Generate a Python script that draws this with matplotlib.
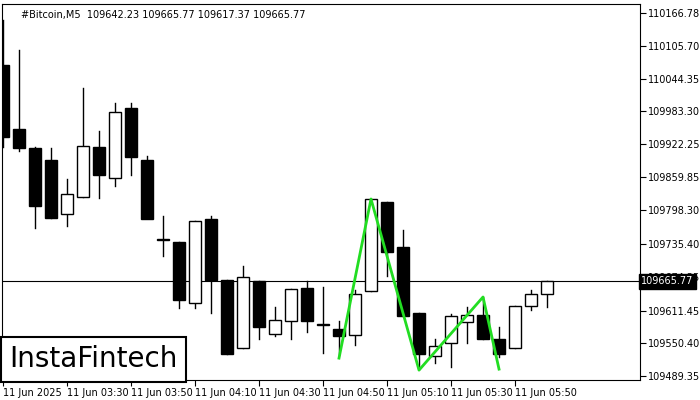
import matplotlib
matplotlib.use("Agg")
import matplotlib.pyplot as plt
from matplotlib.patches import Rectangle

opens = [110069.7,109950.3,109914.8,109892.4,109791.7,109823.4,109916.7,109858.8,109989.5,109892.4,109743.1,
         109739.4,109625.6,109782.3,109668.5,109541.4,109666.6,109567.6,109591.9,109653.6,109584.4,109576.9,
         109565.7,109647.9,109814.1,109730.1,109606.9,109526.5,109550.8,109590.1,109603.2,109558.2,109541.4,
         109620.0,109642.23]
highs = [110153.7,110097.7,109916.7,109914.8,109857.0,110026.8,109946.6,109998.8,109998.8,109899.9,109787.9,
         109739.4,109778.6,109787.9,109668.5,109694.6,109666.6,109618.1,109651.7,109666.6,109655.4,109591.9,
         109649.8,109819.7,109814.1,109761.8,109606.9,109558.2,109605.0,109618.1,109636.8,109580.7,109620.0,
         109649.8,109665.77]
lows = [109916.7,109909.2,109765.5,109784.2,109769.3,109823.4,109821.5,109843.9,109864.4,109831.0,109713.3,
        109616.2,109616.2,109606.9,109530.2,109541.4,109558.2,109563.8,109558.2,109571.3,109532.1,109528.3,
        109547.0,109647.9,109676.0,109601.3,109502.2,109513.4,109505.9,109550.8,109558.2,109524.6,109541.4,
        109612.5,109617.37]
closes = [109935.3,109914.8,109806.6,109784.2,109829.0,109918.6,109864.4,109982.0,109898.0,109782.3,109743.1,
          109631.2,109778.6,109668.5,109530.2,109674.1,109580.7,109593.8,109651.7,109591.9,109584.4,109563.8,
          109642.4,109819.7,109720.7,109601.3,109530.2,109545.1,109601.3,109603.2,109558.2,109530.2,109620.0,
          109642.4,109665.77]
pattern_idx = [21, 23, 26, 30, 31]
pattern_px = [109522.7, 109819.7, 109500.3, 109636.8, 109502.2]
ytick_vals = [110166.78,110105.70,110044.35,109983.30,109922.25,109859.85,109798.30,109735.40,
              109674.35,109611.45,109550.40,109489.35]
xtick_idx = [0, 4, 8, 12, 16, 20, 24, 28, 32]
xtick_labels = ["11 Jun 2025","11 Jun 03:30","11 Jun 03:50","11 Jun 04:10","11 Jun 04:30",
                "11 Jun 04:50","11 Jun 05:10","11 Jun 05:30","11 Jun 05:50"]
last_price = 109665.77

fig = plt.figure(figsize=(7, 4), dpi=100)
ax = fig.add_axes([2/700, 20/400, 638/700, 376/400])
w = 0.7
for i, (o, h, l, c) in enumerate(zip(opens, highs, lows, closes)):
    ax.plot([i, i], [l, h], color='black', lw=1, zorder=2)
    bottom, top = min(o, c), max(o, c)
    face = 'white' if c > o else 'black'
    ax.add_patch(Rectangle((i - w/2, bottom), w, max(top - bottom, 1.2), facecolor=face,
                           edgecolor='black', lw=1, zorder=3))
ax.plot(pattern_idx, pattern_px, color='#22dd22', lw=2, zorder=4)
ax.axhline(last_price, color='black', lw=0.8, zorder=1)

ax.set_xlim(-0.06, 39.81)
ax.set_ylim(109481.9, 110183.6)
ax.yaxis.tick_right()
ax.set_yticks(ytick_vals)
ax.set_yticklabels([f"{v:.2f}" for v in ytick_vals], fontsize=7)
ax.set_xticks(xtick_idx)
ax.set_xticklabels(xtick_labels, fontsize=7)
ax.tick_params(length=4, width=0.8, pad=2)
for lab in ax.get_xticklabels():
    lab.set_horizontalalignment('left')
ax.text(1.002, last_price, f"{last_price:.2f}", transform=ax.get_yaxis_transform(), fontsize=7,
        color='white', va='center', ha='left',
        bbox=dict(boxstyle='square,pad=0.25', facecolor='black', edgecolor='black'), zorder=10,
        clip_on=False)
ax.text(0.03, 0.985, "#Bitcoin,M5  109642.23 109665.77 109617.37 109665.77", transform=ax.transAxes,
        fontsize=7, va='top', ha='left')
ax.text(0.012, 0.055, "InstaFintech", transform=ax.transAxes, fontsize=20, va='center', ha='left',
        bbox=dict(boxstyle='square,pad=0.3', facecolor='white', edgecolor='black', lw=1.5), zorder=12)
for s in ax.spines.values():
    s.set_linewidth(0.8)
fig.savefig("out.png", dpi=100)
